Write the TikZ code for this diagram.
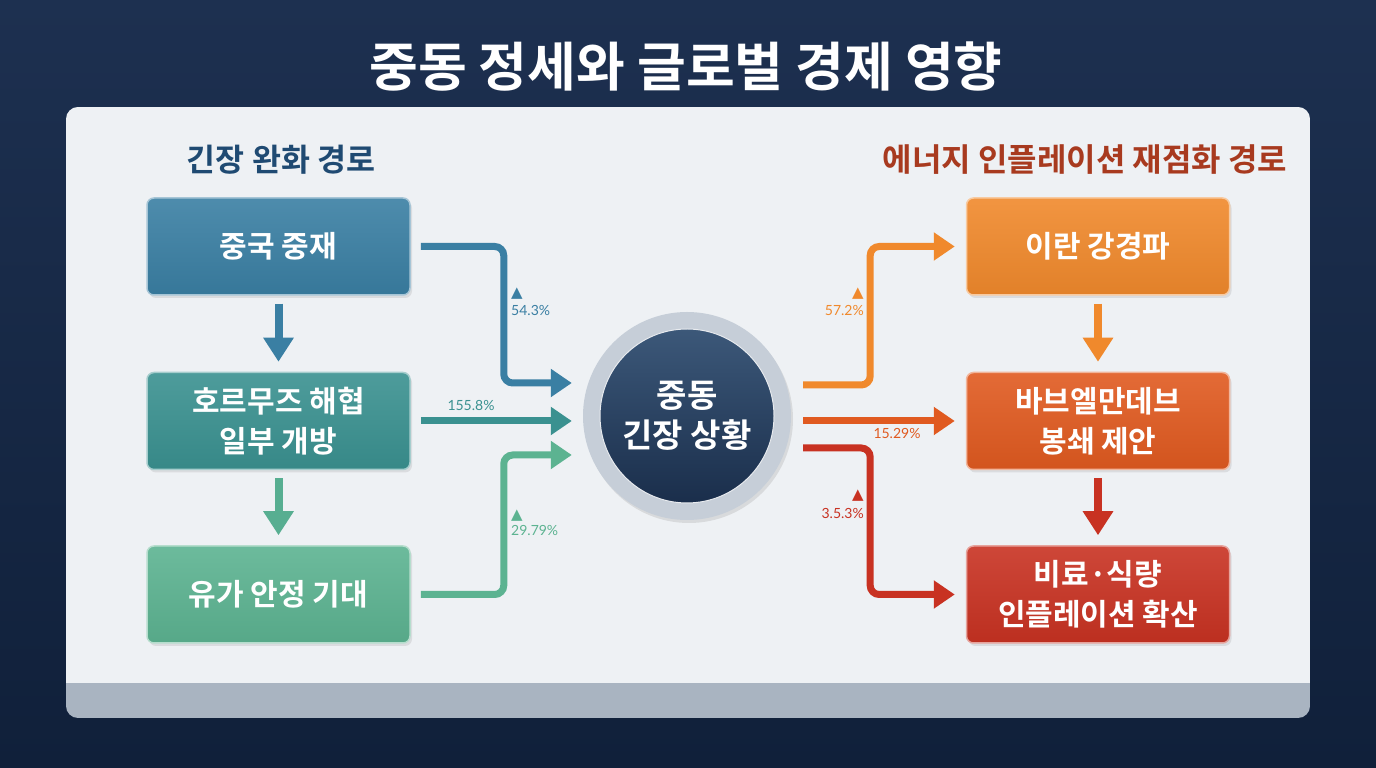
\documentclass[tikz,border=0pt]{standalone}
\usepackage{fontspec}
\setmainfont{Noto Sans CJK KR}[BoldFont={* Bold}]
\newfontfamily\numf{Lato}
\newfontfamily\sym{DejaVu Sans}
\usetikzlibrary{arrows.meta,calc,shadows}
\definecolor{bgtop}{HTML}{1D3050}
\definecolor{bgbot}{HTML}{10203A}
\definecolor{panel}{HTML}{EEF1F4}
\definecolor{strip}{HTML}{A9B4C1}
\definecolor{cA}{HTML}{3A7FA3}
\definecolor{cB}{HTML}{3A9190}
\definecolor{cC}{HTML}{5CB391}
\definecolor{cD}{HTML}{F0892C}
\definecolor{cE}{HTML}{E05A20}
\definecolor{cF}{HTML}{C83222}
\definecolor{hdL}{HTML}{1F4A72}
\definecolor{hdR}{HTML}{A83A1F}
\definecolor{navyT}{HTML}{3C5879}
\definecolor{navyB}{HTML}{1A2E4B}
\definecolor{ringc}{HTML}{C6CED8}
\tikzset{
  box/.style={rounded corners=7pt, minimum width=263pt, minimum height=97pt,
    text=white, font=\bfseries\fontsize{30}{40}\selectfont, align=center,
    top color=#1!90!white, bottom color=#1!94!black, draw=#1!45!white, line width=1.5pt,
    drop shadow={opacity=0.18, shadow xshift=2pt, shadow yshift=-3pt}},
  arr/.style={draw=#1, line width=7pt, rounded corners=9pt,
    -{Triangle[length=21pt,width=27pt]}},
  darr/.style={draw=#1, line width=8pt, -{Triangle[length=24pt,width=29pt]}},
  pct/.style={text=#1, font=\numf\fontsize{14}{14}\selectfont, inner sep=0pt},
  tri/.style={text=#1, font=\sym\fontsize{15}{15}\selectfont, inner sep=0pt},
  heading/.style 2 args={text=#1, font=\bfseries\fontsize{#2}{36}\selectfont}
}
\begin{document}
\begin{tikzpicture}[x=1pt,y=1pt]
\useasboundingbox (0,0) rectangle (1376,768);
\shade[top color=bgtop, bottom color=bgbot] (0,0) rectangle (1376,768);
% title
\node (title) [text=white, font=\bfseries\fontsize{53}{60}\selectfont] at (686,701) {중동 정세와 글로벌 경제 영향};
% panel
\begin{scope}
\clip[rounded corners=12pt] (66,50) rectangle (1310,661);
\fill[panel] (66,85) rectangle (1310,661);
\fill[strip] (66,50) rectangle (1310,85);
\end{scope}
% headings
\node (hl) [heading={hdL}{31.5}] at (281,608) {긴장 완화 경로};
\node (hr) [heading={hdR}{32}] at (1085,608) {에너지 인플레이션 재점화 경로};
% left boxes
\node (b1) [box=cA] at (278.5,521.5) {중국 중재};
\node (b2) [box=cB] at (278.5,347) {호르무즈 해협\\일부 개방};
\node (b3) [box=cC] at (278.5,173.5) {유가 안정 기대};
% right boxes
\node (r1) [box=cD] at (1098,521.5) {이란 강경파};
\node (r2) [box=cE] at (1098,347) {바브엘만데브\\봉쇄 제안};
\node (r3) [box=cF] at (1098,173.5) {비료·식량\\인플레이션 확산};
% center
\node (ring) [circle, minimum size=208pt, inner sep=0pt, fill=ringc,
  drop shadow={opacity=0.2, shadow xshift=2pt, shadow yshift=-3pt}] at (687,352) {};
\node (core) [circle, minimum size=174pt, inner sep=0pt, top color=navyT, bottom color=navyB,
  draw=white!60!ringc, line width=1pt,
  text=white, align=center, font=\bfseries\fontsize{33}{40}\selectfont] at (ring.center) {중동\\긴장 상황};
% down arrows
\draw[darr=cA] ([yshift=-8pt]b1.south) -- ([yshift=10pt]b2.north);
\draw[darr=cC!85!cB] ([yshift=-8pt]b2.south) -- ([yshift=10pt]b3.north);
\draw[darr=cD] ([yshift=-8pt]r1.south) -- ([yshift=10pt]r2.north);
\draw[darr=cF] ([yshift=-8pt]r2.south) -- ([yshift=10pt]r3.north);
% left connectors
\draw[arr=cA] ([xshift=10pt]b1.east) -- ++(83,0) |- ([xshift=-11pt,yshift=33pt]ring.west);
\draw[arr=cB] ([xshift=10pt]b2.east) -- ([xshift=-11pt]b2.east -| ring.west);
\draw[arr=cC] ([xshift=10pt]b3.east) -- ++(83,0) |- ([xshift=-11pt,yshift=-39pt]ring.west);
% right connectors
\draw[arr=cD] ([xshift=12pt,yshift=31pt]ring.east) -- ++(67,0) |- ([xshift=-11pt]r1.west);
\draw[arr=cE] ([xshift=12pt]ring.east |- r2.west) -- ([xshift=-11pt]r2.west);
\draw[arr=cF] ([xshift=12pt,yshift=-32pt]ring.east) -- ++(67,0) |- ([xshift=-11pt]r3.west);
% labels
\node (t1) [tri=cA] at (517,474) {▲};
\node (p1) [pct=cA, anchor=west] at (511,458) {54.3\%};
\node (p2) [pct=cB] at (471,363) {155.8\%};
\node (t3) [tri=cC] at (517,252) {▲};
\node (p3) [pct=cC, anchor=west] at (511,238) {29.79\%};
\node (t4) [tri=cD] at (858,474) {▲};
\node (p4) [pct=cD, anchor=east] at (864,458) {57.2\%};
\node (p5) [pct=cE] at (897,335) {15.29\%};
\node (t6) [tri=cF] at (858,272) {▲};
\node (p6) [pct=cF, anchor=east] at (864,255) {3.5.3\%};
\end{tikzpicture}
\end{document}
